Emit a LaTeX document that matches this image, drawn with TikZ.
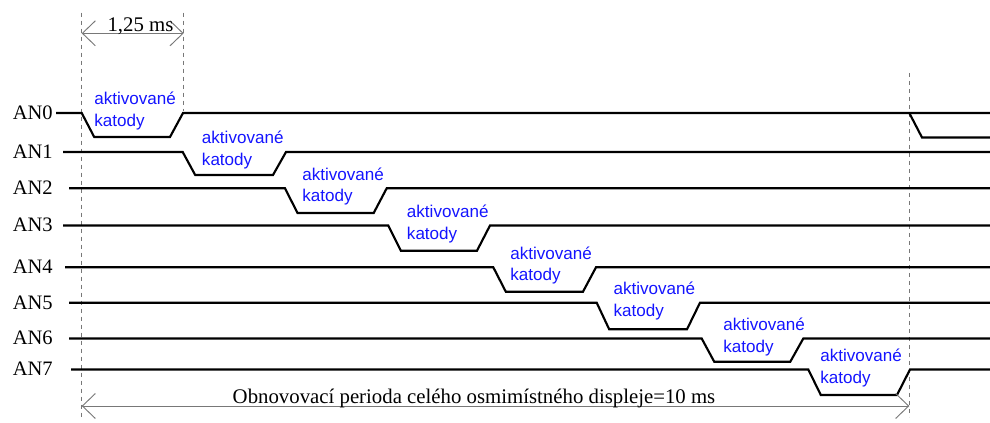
\documentclass[tikz,border=0pt]{standalone}
\usepackage{fontspec}
\setmainfont{Liberation Serif}
\newfontfamily\katsans{Liberation Sans}
\usetikzlibrary{arrows.meta}
\definecolor{dimgray}{RGB}{120,120,120}
\definecolor{katblue}{RGB}{20,20,255}
\begin{document}
\begin{tikzpicture}[x=0.75pt,y=-0.75pt,
  siglabel/.style={anchor=base east,inner sep=0pt,font=\fontsize{15.4}{18}\selectfont},
  sigline/.style={line width=1.6pt,line join=miter},
  cathode/.style={anchor=base west,inner sep=0pt,align=left,text=katblue,
    font=\katsans\fontsize{12.8}{16.2}\selectfont},
  guide/.style={draw=dimgray,line width=0.75pt,dash pattern=on 3pt off 3pt},
  dimline/.style={draw=dimgray,line width=0.7pt,
    {Straight Barb[length=9.75pt,width=18.75pt]}-{Straight Barb[length=9.75pt,width=18.75pt]}},
  dimtext/.style={anchor=base,inner sep=0pt,font=\fontsize{15.6}{18}\selectfont}]
\path[use as bounding box] (0,0) rectangle (990,423);

% guide lines marking the period boundaries
\coordinate (g0t) at (81.7,12.7);  \coordinate (g0b) at (81.7,417);
\coordinate (g1t) at (183.7,12.7); \coordinate (g1b) at (183.7,111);
\coordinate (g8t) at (909.3,73);   \coordinate (g8b) at (909.3,417);
\draw[guide] (g0t) -- (g0b);
\draw[guide] (g1t) -- (g1b);
\draw[guide] (g8t) -- (g8b);

% anode signals: label, start x, high y, low y, fall start, rise end
\foreach \k/\xs/\yh/\yl/\f/\r in {
  0/56/113/137/81.7/183,
  1/63/152/175/182.7/286,
  2/69/188.3/213/285/386.7,
  3/63/225.5/250.7/388.3/490,
  4/65/267.3/291.7/493.3/596,
  5/69/302.7/329.3/596.7/700,
  6/69/338.5/361.7/701.7/803.3,
  7/71/369.5/395/808.3/910}{
  \node[siglabel] (an\k) at (53,\yh+6.5) {AN\k};
  \draw[sigline] (\xs,\yh) -- (\f,\yh) -- (\f+12.5,\yl) -- (\r-13,\yl)
     -- (\r,\yh) -- (990,\yh);
}
% next refresh cycle of AN0
\draw[sigline] (909.3,113) -- (922,137.5) -- (990,137.5);

% active cathode captions (base anchor sits on the second line)
\foreach \k/\tx/\ty in {0/94/105, 1/201.7/144, 2/302/180.3, 3/406.7/217.5,
  4/510/259.3, 5/613.3/294.7, 6/723/330.5, 7/820/361.5}{
  \node[cathode] (t\k) at (\tx,\ty+21.6) {aktivované\\katody};
}

% dimension arrows
\coordinate (d0l) at (81.7,33.3);  \coordinate (d0r) at (183.7,33.3);
\coordinate (d1l) at (81.7,406);   \coordinate (d1r) at (909.3,406);
\draw[dimline] (d0l) -- (d0r);
\draw[dimline] (d1l) -- (d1r);
\node[dimtext] (slot) at (140.5,31.7) {1,25 ms};
\node[dimtext] (period) at (474,403.5) {Obnovovací perioda celého osmimístného displeje=10 ms};
\end{tikzpicture}
\end{document}
